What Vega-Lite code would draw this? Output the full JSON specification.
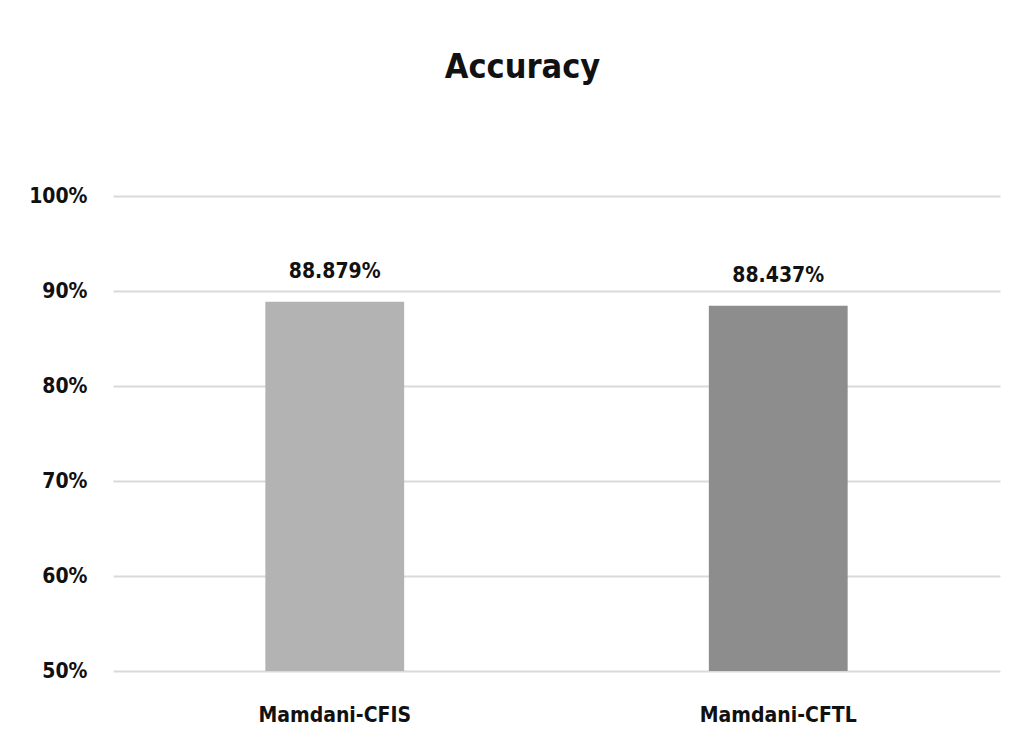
{
  "$schema": "https://vega.github.io/schema/vega-lite/v6.json",
  "width": 887,
  "height": 475,
  "autosize": {"type": "none"},
  "padding": {"left": 113, "top": 196, "right": 21, "bottom": 78},
  "background": "white",
  "title": {
    "text": "Accuracy",
    "anchor": "middle",
    "frame": "group",
    "dx": -34,
    "offset": 100,
    "fontSize": 34,
    "font": "DejaVu Sans Condensed, Liberation Sans, sans-serif",
    "fontWeight": "bold",
    "color": "#111111"
  },
  "data": {
    "values": [
      {"model": "Mamdani-CFIS", "accuracy": 0.88879},
      {"model": "Mamdani-CFTL", "accuracy": 0.88437}
    ]
  },
  "encoding": {
    "x": {
      "field": "model",
      "type": "nominal",
      "sort": null,
      "scale": {"paddingInner": 0, "paddingOuter": 0},
      "axis": {
        "title": null,
        "labelAngle": 0,
        "domain": false,
        "ticks": false,
        "labelFont": "DejaVu Sans Condensed, Liberation Sans, sans-serif",
        "labelFontWeight": "bold",
        "labelFontSize": 21,
        "labelColor": "#111111",
        "labelPadding": 33
      }
    },
    "y": {
      "field": "accuracy",
      "type": "quantitative",
      "scale": {"domain": [0.5, 1], "zero": false},
      "axis": {
        "title": null,
        "values": [0.5, 0.6, 0.7, 0.8, 0.9, 1.0],
        "format": ".0%",
        "domain": false,
        "ticks": false,
        "grid": true,
        "gridColor": "#d9d9d9",
        "gridWidth": 2,
        "labelFont": "DejaVu Sans Condensed, Liberation Sans, sans-serif",
        "labelFontWeight": "bold",
        "labelFontSize": 21,
        "labelColor": "#111111",
        "labelPadding": 26
      }
    }
  },
  "layer": [
    {
      "mark": {"type": "bar", "width": {"band": 0.313}, "clip": true},
      "encoding": {
        "color": {
          "field": "model",
          "type": "nominal",
          "scale": {"domain": ["Mamdani-CFIS", "Mamdani-CFTL"], "range": ["#b3b3b3", "#8d8d8d"]},
          "legend": null
        }
      }
    },
    {
      "mark": {
        "type": "text",
        "dy": -30,
        "font": "DejaVu Sans Condensed, Liberation Sans, sans-serif",
        "fontWeight": "bold",
        "fontSize": 21,
        "color": "#111111"
      },
      "encoding": {
        "text": {"field": "accuracy", "type": "quantitative", "format": ".3%"}
      }
    }
  ],
  "config": {"view": {"stroke": null}}
}
